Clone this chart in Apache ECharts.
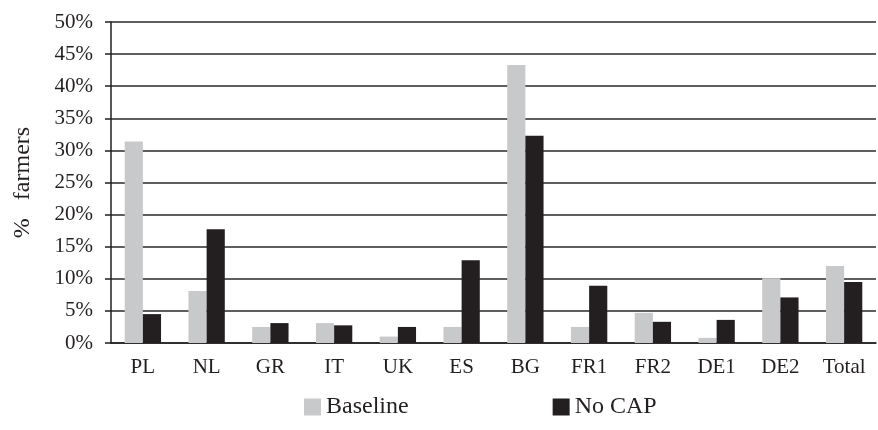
<!DOCTYPE html>
<html><head><meta charset="utf-8">
<script src="https://cdn.jsdelivr.net/npm/echarts@6/dist/echarts.min.js"></script>
<style>html,body{margin:0;padding:0;background:#fff}#c{width:878px;height:430px}</style>
</head><body><div id="c"></div>
<script>
const categories = ['PL','NL','GR','IT','UK','ES','BG','FR1','FR2','DE1','DE2','Total'];
const baseline = [31.4, 8.1, 2.5, 3.1, 1.0, 2.5, 43.3, 2.5, 4.7, 0.8, 10.1, 12.0];
const noCap = [4.5, 17.7, 3.1, 2.75, 2.5, 12.9, 32.3, 8.9, 3.3, 3.6, 7.1, 9.5];
const seriesNames = ['Baseline', 'No CAP'];
const yAxisTitle = '%   farmers';

const font = 'Liberation Serif';
const chart = echarts.init(document.getElementById('c'));
chart.setOption({
  animation: false,
  backgroundColor: '#fff',
  textStyle: {fontFamily: font},
  grid: {left: 111, right: 2, top: 22, bottom: 87, containLabel: false},
  legend: {
    data: seriesNames, bottom: 6, left: 299, itemWidth: 17, itemHeight: 17, itemGap: 144,
    icon: 'rect', textStyle: {fontFamily: font, fontSize: 24, color: '#231f20'}
  },
  xAxis: {
    type: 'category', data: categories,
    axisLine: {lineStyle: {color: '#231f20', width: 1.5}},
    axisTick: {show: false},
    axisLabel: {fontFamily: font, fontSize: 21, color: '#231f20', margin: 14}
  },
  yAxis: {
    type: 'value', min: 0, max: 50, interval: 5,
    name: yAxisTitle, nameLocation: 'middle', nameGap: 76, nameRotate: 90,
    nameTextStyle: {fontFamily: font, fontSize: 24, color: '#231f20'},
    axisLine: {show: true, lineStyle: {color: '#231f20', width: 1.5}},
    axisTick: {show: true, length: 6, lineStyle: {color: '#231f20', width: 1.5}},
    axisLabel: {fontFamily: font, fontSize: 21, color: '#231f20', margin: 18, formatter: '{value}%'},
    splitLine: {lineStyle: {color: '#2a2a2a', width: 1.5}}
  },
  series: [
    {name: seriesNames[0], type: 'bar', data: baseline, barGap: '0%', barCategoryGap: '43%',
     itemStyle: {color: '#c8c9cb'}},
    {name: seriesNames[1], type: 'bar', data: noCap, barGap: '0%', barCategoryGap: '43%',
     itemStyle: {color: '#231f20'}}
  ]
});
</script></body></html>
